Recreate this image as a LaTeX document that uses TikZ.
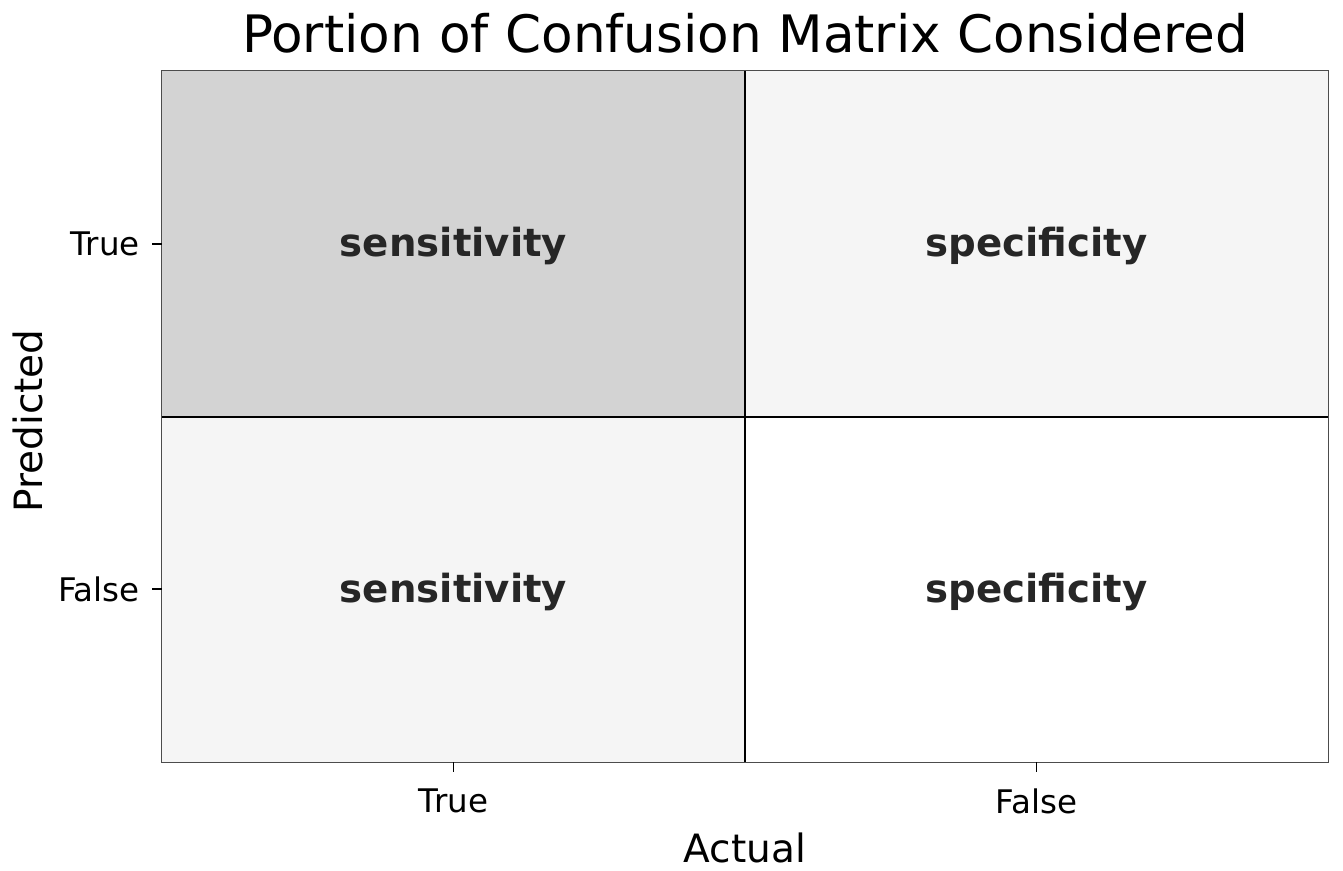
\documentclass[tikz,border=0pt]{standalone}
\usepackage{fontspec}
\setmainfont{DejaVu Sans}
\definecolor{cellhi}{HTML}{D3D3D3}
\definecolor{cellmid}{HTML}{F5F5F5}
\definecolor{celltext}{HTML}{262626}
\newcommand{\fsz}[1]{\fontsize{#1}{#1}\selectfont}
\tikzset{
  cell/.style={minimum width=583pt,minimum height=345.5pt,inner sep=0pt,draw=none,
    text height=35pt,text depth=9pt,font=\fsz{38.7}\bfseries,text=celltext},
  tick/.style={line width=1.8pt},
  ticklabel/.style={font=\fsz{32.5},inner sep=0pt}
}
\begin{document}
\begin{tikzpicture}[x=1pt,y=-1pt]
\useasboundingbox (0,0) rectangle (1343,870);

% cells
\node[cell,fill=cellhi]  (tt) at (453.5,243.75) {sensitivity};
\node[cell,fill=cellmid] (tf) at (1036.5,243.75) {specificity};
\node[cell,fill=cellmid] (ft) at (453.5,589.25) {sensitivity};
\node[cell,fill=white]   (ff) at (1036.5,589.25) {specificity};

% frame and grid
\draw[line width=1pt,black!70] (tt.north west) rectangle (ff.south east);
\draw[line width=2pt] (tt.south west) -- (tf.south east);
\draw[line width=1.5pt] (tt.north east) -- (ft.south east);

% ticks
\draw[tick] (ft.south) -- ++(0,10) coordinate (xt1);
\draw[tick] (ff.south) -- ++(0,10) coordinate (xt2);
\draw[tick] (tt.west) -- ++(-10,0) coordinate (yt1);
\draw[tick] (ft.west) -- ++(-10,0) coordinate (yt2);
\node[ticklabel,anchor=north] (xl1) at ([yshift=-16]xt1) {True};
\node[ticklabel,anchor=north] (xl2) at ([yshift=-16]xt2) {False};
\node[ticklabel,anchor=east] (yl1) at ([xshift=-12]yt1) {True};
\node[ticklabel,anchor=east] (yl2) at ([xshift=-12]yt2) {False};

% axis titles
\node[font=\fsz{39},inner sep=0pt] (xlab) at (745,848) {Actual};
\node[font=\fsz{39},inner sep=0pt,rotate=90] (ylab) at (28,421) {Predicted};
\node[font=\fsz{51.6},inner sep=0pt] (title) at (745,33) {Portion of Confusion Matrix Considered};
\end{tikzpicture}
\end{document}
